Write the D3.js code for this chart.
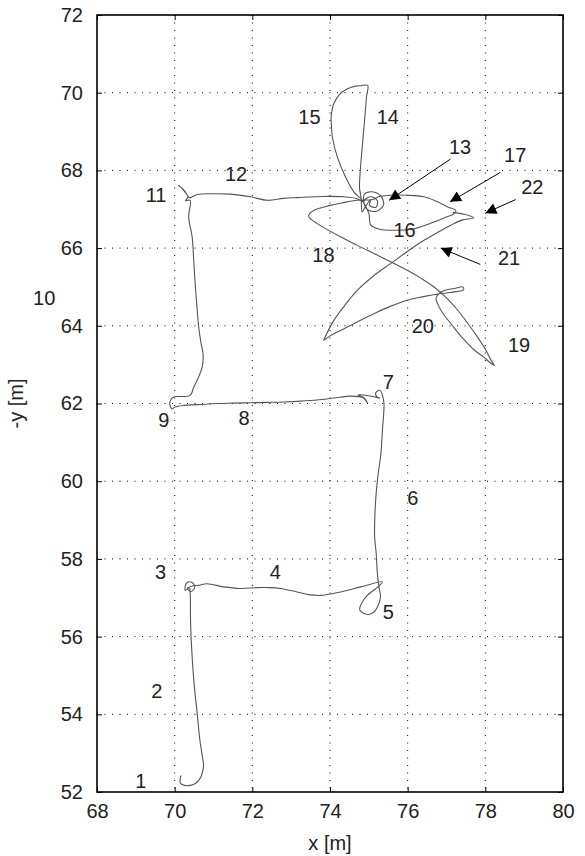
<!DOCTYPE html>
<html>
<head>
<meta charset="utf-8">
<script src="https://d3js.org/d3.v7.min.js"></script>
<style>
  body { margin: 0; background: #fff; }
  text { font-family: "Liberation Sans", Arial, sans-serif; }
</style>
</head>
<body>
<div id="Graph"></div>
<script>
// trajectory, x [m]
var pathX = [70.16,70.14,70.18,70.40,70.62,70.74,70.70,70.65,70.58,70.50,70.44,70.41,70.40,70.38,
  70.27,70.31,70.44,70.52,70.42,70.33,70.45,
  70.61,70.83,71.26,71.69,72.12,72.45,72.72,73.15,73.45,73.75,74.27,74.79,75.35,
  75.26,74.96,74.79,74.77,74.96,75.12,75.22,75.30,75.26,
  75.22,75.19,75.15,75.17,75.22,75.31,75.35,75.39,75.35,
  75.28,75.18,75.20,75.28,
  75.10,74.87,74.72,74.87,74.96,74.85,
  74.53,74.10,73.67,73.25,72.81,72.40,71.95,71.50,71.09,70.60,70.22,70.01,69.93,
  69.88,69.89,69.98,70.06,70.40,70.49,70.58,70.71,70.73,70.67,70.62,70.56,70.52,70.49,70.45,70.36,70.40,
  70.28,70.34,70.22,70.10,70.25,70.38,70.45,
  70.58,71.00,71.44,71.95,72.39,72.80,73.16,73.84,74.36,74.70,
  74.85,74.88,75.05,75.30,75.38,75.20,74.95,74.88,75.05,75.22,75.18,75.02,75.05,74.90,74.83,74.80,
  74.76,74.78,74.83,74.89,74.94,74.97,74.80,74.66,74.45,74.27,74.10,74.03,74.04,74.06,74.19,74.40,74.62,74.83,
  75.00,75.05,75.30,75.56,76.17,76.68,77.00,77.20,77.24,77.03,76.77,76.42,75.99,75.56,75.25,75.10,
  74.70,74.30,74.01,73.58,73.45,73.50,73.67,74.27,74.70,75.13,75.56,75.99,76.35,76.68,77.00,77.29,77.55,77.80,78.00,78.15,78.23,
  78.15,77.95,77.72,77.40,77.11,76.90,76.77,76.73,76.80,76.94,77.20,77.42,77.44,77.25,76.86,76.40,75.99,75.55,75.13,74.70,74.27,74.00,73.84,
  73.86,74.10,74.40,74.70,75.10,75.56,76.00,76.42,76.80,77.11,77.40,77.70,77.46,77.16];

// trajectory, -y [m]
var pathY = [52.43,52.25,52.20,52.17,52.30,52.64,53.00,53.33,54.02,54.79,55.65,56.33,57.11,57.26,
  57.19,57.38,57.40,57.28,57.16,57.24,57.30,
  57.32,57.36,57.28,57.24,57.26,57.26,57.24,57.15,57.08,57.06,57.15,57.28,57.41,
  57.30,57.06,56.81,56.68,56.57,56.62,56.76,57.02,57.28,
  57.62,58.14,58.56,59.42,60.02,60.71,61.31,62.00,62.21,
  62.34,62.28,62.18,62.14,
  62.18,62.22,62.22,62.15,62.02,62.15,
  62.19,62.14,62.09,62.06,62.04,62.03,62.02,62.01,62.00,61.97,61.95,61.91,61.86,
  61.95,62.08,62.17,62.18,62.21,62.42,62.60,62.94,63.28,63.60,63.97,64.66,65.20,65.69,66.29,66.80,67.23,
  67.22,67.32,67.50,67.62,67.48,67.30,67.32,
  67.38,67.40,67.39,67.32,67.23,67.28,67.30,67.33,67.32,67.27,
  67.20,67.38,67.45,67.35,67.12,66.95,67.00,67.22,67.32,67.22,67.05,67.10,67.25,67.05,66.93,67.30,
  67.55,68.00,68.60,69.29,69.89,70.19,70.18,70.17,70.10,69.98,69.72,69.38,69.10,68.86,68.34,67.83,67.44,67.23,
  66.89,66.59,66.48,66.46,66.50,66.67,66.80,66.89,66.97,67.06,67.19,67.32,67.36,67.36,67.32,67.25,
  67.23,67.16,67.10,66.97,66.84,66.75,66.63,66.29,66.07,65.86,65.65,65.43,65.22,65.00,64.72,64.40,64.06,63.71,63.40,63.11,62.98,
  63.03,63.20,63.37,63.70,64.06,64.33,64.57,64.70,64.82,64.91,64.96,65.00,64.93,64.88,64.83,64.75,64.66,64.50,64.31,64.10,63.88,63.74,63.63,
  63.68,64.14,64.55,64.91,65.27,65.60,65.92,66.20,66.42,66.59,66.72,66.78,66.87,66.92];

// segment numbers and where they sit
var labelText = ["1","2","3","4","5","6","7","8","9","10","11","12","13","14","15","16","17","18","19","20","21","22"];
var labelX = [69.13,69.54,69.64,72.59,75.50,76.13,75.50,71.79,69.72,66.64,69.52,71.58,77.35,75.49,73.47,75.92,78.77,73.83,78.87,76.39,78.61,79.21];
var labelY = [52.30,54.61,57.68,57.66,56.65,59.58,62.57,61.64,61.57,64.73,67.38,67.90,68.62,69.37,69.37,66.48,68.39,65.84,63.52,63.99,65.76,67.59];

// arrows: tail -> head
var arrowX1 = [77.10,78.39,78.78,77.87];
var arrowY1 = [68.29,67.95,67.25,65.58];
var arrowX2 = [75.52,77.09,78.00,76.85];
var arrowY2 = [67.23,67.19,66.90,66.00];

var xTicks = [68,70,72,74,76,78,80];
var yTicks = [52,54,56,58,60,62,64,66,68,70,72];

var margin = {top: 15, right: 22, bottom: 64, left: 97},
    width = 585 - margin.left - margin.right,
    height = 856 - margin.top - margin.bottom;

var svg = d3.select("#Graph").append("svg")
    .attr("width", 585)
    .attr("height", 856)
    .append("g")
    .attr("transform", "translate(" + margin.left + "," + margin.top + ")");

var x = d3.scaleLinear().domain([68, 80]).range([0, width]);
var y = d3.scaleLinear().domain([52, 72]).range([height, 0]);

// dotted grid
svg.append("g").selectAll("line").data(xTicks.slice(1, -1)).enter().append("line")
    .attr("x1", d => x(d)).attr("x2", d => x(d))
    .attr("y1", 0).attr("y2", height)
    .attr("stroke", "#000").attr("stroke-width", 1)
    .attr("stroke-dasharray", "1,6.5");
svg.append("g").selectAll("line").data(yTicks.slice(1, -1)).enter().append("line")
    .attr("y1", d => y(d)).attr("y2", d => y(d))
    .attr("x1", 0).attr("x2", width)
    .attr("stroke", "#000").attr("stroke-width", 1)
    .attr("stroke-dasharray", "1,6.5");

// axes, ticks pointing inward
function styleAxis(g) {
    g.select(".domain").remove();
    g.selectAll(".tick line").attr("stroke", "#000");
    g.selectAll("text").attr("font-size", "20px").attr("fill", "#222");
}
svg.append("g")
    .attr("transform", "translate(0," + height + ")")
    .call(d3.axisBottom(x).tickValues(xTicks).tickSize(-5).tickPadding(12))
    .call(styleAxis);
svg.append("g")
    .call(d3.axisLeft(y).tickValues(yTicks).tickSize(-5).tickPadding(14))
    .call(styleAxis);
svg.append("g")
    .call(d3.axisTop(x).tickValues(xTicks).tickSize(-5).tickFormat(""))
    .call(styleAxis);
svg.append("g")
    .attr("transform", "translate(" + width + ",0)")
    .call(d3.axisRight(y).tickValues(yTicks).tickSize(-5).tickFormat(""))
    .call(styleAxis);

svg.append("rect")
    .attr("width", width).attr("height", height)
    .attr("fill", "none").attr("stroke", "#000").attr("stroke-width", 1.6);

// trajectory
var pts = pathX.map(function(v, i) { return [v, pathY[i]]; });
var line = d3.line()
    .x(d => x(d[0]))
    .y(d => y(d[1]))
    .curve(d3.curveCatmullRom.alpha(0.5));
svg.append("path")
    .datum(pts)
    .attr("d", line)
    .attr("fill", "none")
    .attr("stroke", "#555")
    .attr("stroke-width", 1.1);

// arrows
svg.append("defs").append("marker")
    .attr("id", "head")
    .attr("viewBox", "0 0 10 10")
    .attr("refX", 10).attr("refY", 5)
    .attr("markerWidth", 16).attr("markerHeight", 11)
    .attr("markerUnits", "userSpaceOnUse")
    .attr("orient", "auto")
    .append("path")
    .attr("d", "M0,0 L10,5 L0,10 Z")
    .attr("fill", "#000");

svg.append("g").selectAll("line").data(arrowX1).enter().append("line")
    .attr("x1", (d, i) => x(arrowX1[i]))
    .attr("y1", (d, i) => y(arrowY1[i]))
    .attr("x2", (d, i) => x(arrowX2[i]))
    .attr("y2", (d, i) => y(arrowY2[i]))
    .attr("stroke", "#000")
    .attr("stroke-width", 1)
    .attr("marker-end", "url(#head)");

// segment numbers
svg.append("g").selectAll("text").data(labelText).enter().append("text")
    .attr("x", (d, i) => x(labelX[i]))
    .attr("y", (d, i) => y(labelY[i]))
    .attr("text-anchor", "middle")
    .attr("dy", "0.36em")
    .attr("font-size", "20px")
    .attr("fill", "#222")
    .text(d => d);

// axis titles
svg.append("text")
    .attr("x", width / 2)
    .attr("y", height + 58)
    .attr("text-anchor", "middle")
    .attr("font-size", "20px")
    .attr("fill", "#222")
    .text("x [m]");
svg.append("text")
    .attr("transform", "translate(-74," + (height / 2) + ") rotate(-90)")
    .attr("text-anchor", "middle")
    .attr("font-size", "20px")
    .attr("fill", "#222")
    .text("-y [m]");
</script>
</body>
</html>
